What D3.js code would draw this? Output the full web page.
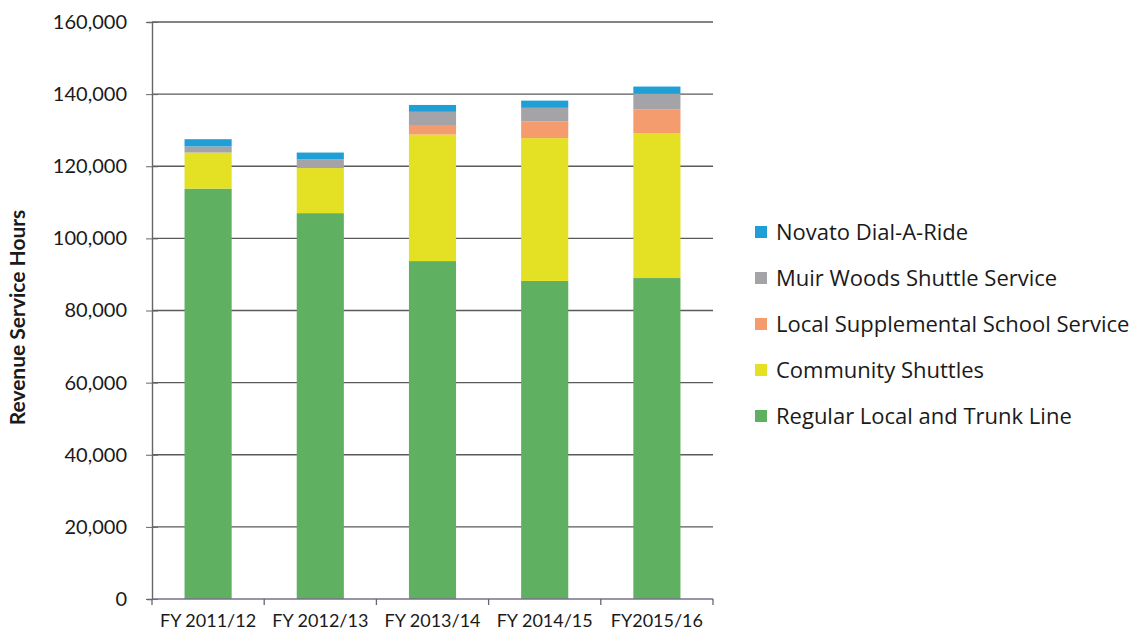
<!DOCTYPE html>
<html>
<head>
<meta charset="utf-8">
<script src="https://cdn.jsdelivr.net/npm/d3@7"></script>
<style>
  html, body { margin: 0; padding: 0; background: #fff; }
  svg { display: block; }
</style>
</head>
<body>
<svg id="chart" width="1134" height="635"></svg>
<script>
// Fiscal years on the x axis
const categories = ["FY 2011/12", "FY 2012/13", "FY 2013/14", "FY 2014/15", "FY2015/16"];

// Revenue service hours by service type (stack order bottom to top)
const regularLocalTrunk = [113800, 107000, 93700, 88200, 89000];
const communityShuttles = [10000, 12500, 35100, 39600, 40100];
const localSupplementalSchool = [0, 0, 2400, 4600, 6700];
const muirWoodsShuttle = [1700, 2400, 3900, 3800, 4300];
const novatoDialARide = [2000, 1900, 1900, 2000, 2000];

const seriesNames = [
  "Regular Local and Trunk Line",
  "Community Shuttles",
  "Local Supplemental School Service",
  "Muir Woods Shuttle Service",
  "Novato Dial-A-Ride"
];
const seriesValues = [regularLocalTrunk, communityShuttles, localSupplementalSchool, muirWoodsShuttle, novatoDialARide];
const seriesColors = ["#60b062", "#e4e024", "#f49c6e", "#a4a4a8", "#1f9fd6"];

const yTicks = [0, 20000, 40000, 60000, 80000, 100000, 120000, 140000, 160000];

const svg = d3.select("#chart");
const plot = { left: 152, right: 713, top: 22, bottom: 599 };

const rows = categories.map((c, i) => {
  const r = { category: c };
  seriesNames.forEach((s, k) => { r[s] = seriesValues[k][i]; });
  return r;
});
const stacked = d3.stack().keys(seriesNames)(rows);

const x = d3.scaleBand().domain(categories).range([plot.left, plot.right]).paddingInner(0.58).paddingOuter(0.29);
const xBand = d3.scaleBand().domain(categories).range([plot.left, plot.right]);
const y = d3.scaleLinear().domain([0, 160000]).range([plot.bottom, plot.top]);
const fmt = d3.format(",");

// horizontal gridlines
svg.append("g")
  .selectAll("line")
  .data(yTicks.filter(t => t > 0))
  .join("line")
  .attr("x1", plot.left).attr("x2", plot.right)
  .attr("y1", d => y(d)).attr("y2", d => y(d))
  .attr("stroke", "#5a5a5a").attr("stroke-width", 1.4);

// stacked bars
svg.append("g")
  .selectAll("g")
  .data(stacked)
  .join("g")
  .attr("fill", (d, i) => seriesColors[i])
  .selectAll("rect")
  .data(d => d)
  .join("rect")
  .attr("x", d => x(d.data.category))
  .attr("width", x.bandwidth())
  .attr("y", d => y(d[1]))
  .attr("height", d => Math.max(0, y(d[0]) - y(d[1])));

// y axis with ticks crossing the axis line
const yAxis = svg.append("g").attr("transform", `translate(${plot.left},0)`)
  .call(d3.axisLeft(y).tickValues(yTicks).tickFormat(fmt).tickSize(5).tickPadding(20));
yAxis.select(".domain").attr("stroke", "#666").attr("stroke-width", 1.4);
yAxis.selectAll(".tick line").attr("stroke", "#666").attr("x2", -6).attr("x1", 6);
yAxis.selectAll(".tick text")
  .attr("font-family", "Lato, 'Open Sans', sans-serif")
  .attr("font-size", 20).attr("fill", "#1a1a1a").attr("x", -25);

// x axis with ticks at band boundaries
const xAxisG = svg.append("g").attr("transform", `translate(0,${plot.bottom})`);
xAxisG.append("line")
  .attr("x1", plot.left).attr("x2", plot.right)
  .attr("stroke", "#7a6f8f").attr("stroke-width", 1.6);
const bounds = categories.map(c => xBand(c)).concat([plot.right]);
xAxisG.selectAll("line.tk").data(bounds).join("line").attr("class", "tk")
  .attr("x1", d => d).attr("x2", d => d).attr("y1", 0).attr("y2", 6)
  .attr("stroke", "#666").attr("stroke-width", 1.3);
xAxisG.selectAll("text").data(categories).join("text")
  .attr("x", d => xBand(d) + xBand.bandwidth() / 2)
  .attr("y", 28)
  .attr("text-anchor", "middle")
  .attr("font-family", "Lato, 'Open Sans', sans-serif")
  .attr("font-size", 18).attr("fill", "#1a1a1a")
  .text(d => d);

// y axis title
svg.append("text")
  .attr("transform", `translate(25,${(plot.top + plot.bottom) / 2 + 7}) rotate(-90)`)
  .attr("text-anchor", "middle")
  .attr("font-family", "Lato, 'Open Sans', sans-serif")
  .attr("font-weight", "bold")
  .attr("font-size", 21).attr("fill", "#1a1a1a")
  .text("Revenue Service Hours");

// legend (top entry is the top of the stack)
const legendItems = seriesNames.map((n, i) => ({ name: n, color: seriesColors[i] })).reverse();
const legend = svg.append("g").attr("transform", "translate(755,232)");
const lg = legend.selectAll("g").data(legendItems).join("g")
  .attr("transform", (d, i) => `translate(0,${i * 46})`);
lg.append("rect").attr("x", 0).attr("y", -6).attr("width", 12).attr("height", 12).attr("fill", d => d.color);
lg.append("text").attr("x", 21).attr("y", 8)
  .attr("font-family", "'Open Sans', Lato, sans-serif")
  .attr("font-size", 22).attr("fill", "#1a1a1a")
  .text(d => d.name);
</script>
</body>
</html>
